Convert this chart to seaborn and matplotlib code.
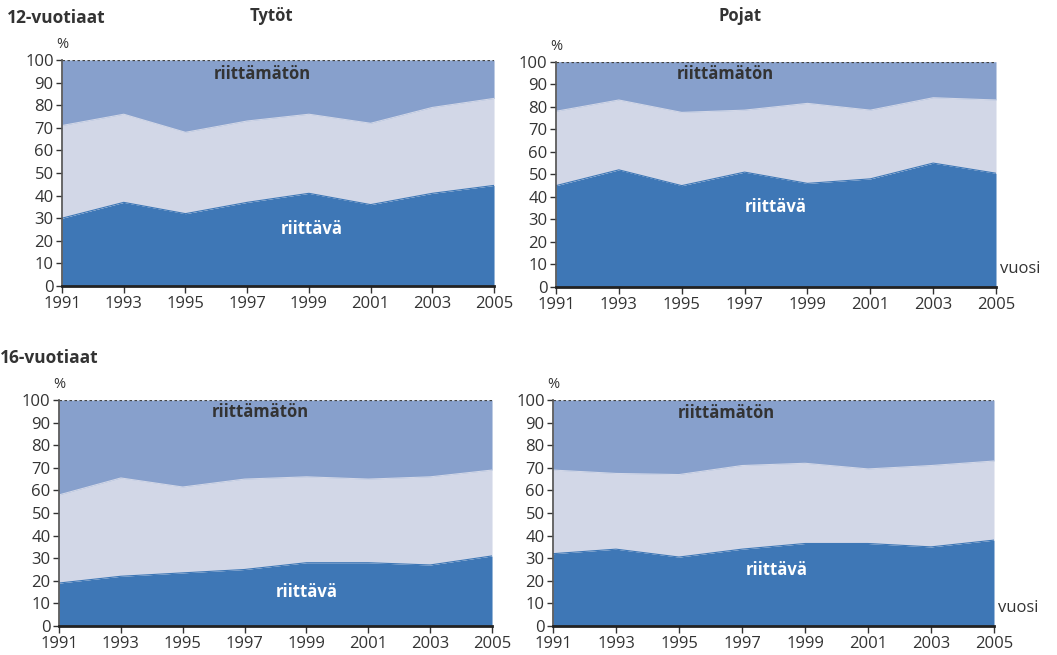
import matplotlib
matplotlib.use("Agg")
import matplotlib.pyplot as plt
import seaborn as sns
import pandas as pd

# years on x-axis
years = [1991, 1993, 1995, 1997, 1999, 2001, 2003, 2005]

# share (%) per band, bottom to top: riittävä, middle band, riittämätön
g12_riittava = [30, 37, 32, 37, 41, 36, 41, 44.5]
g12_keski = [41, 39, 36, 36, 35, 36, 38, 38.5]
b12_riittava = [45, 52, 45, 51, 46, 48, 55, 50.5]
b12_keski = [33, 31, 32.5, 27.5, 35.5, 30.5, 29, 32.5]
g16_riittava = [19, 22, 23.5, 25, 28, 28, 27, 31]
g16_keski = [39, 43.5, 38, 40, 38, 37, 39, 38]
b16_riittava = [32, 34, 30.5, 34, 36.5, 36.5, 35, 38]
b16_keski = [37, 33.5, 36.5, 37, 35.5, 33, 36, 35]

panels = [
    ("12", "Tytöt", g12_riittava, g12_keski),
    ("12", "Pojat", b12_riittava, b12_keski),
    ("16", "Tytöt", g16_riittava, g16_keski),
    ("16", "Pojat", b16_riittava, b16_keski),
]

# axes boxes in figure fractions [left, bottom, width, height]
boxes = [
    [0.0587, 0.5634, 0.4087, 0.345],
    [0.5260, 0.5618, 0.4163, 0.344],
    [0.0558, 0.0443, 0.4097, 0.345],
    [0.5232, 0.0443, 0.4172, 0.345],
]
# label positions (year, %) for the two band labels
lab_low = [(1999.1, 25), (1998.0, 35.5), (1999.0, 15), (1998.1, 24.8)]
lab_top = [(1997.5, 94), (1996.4, 94.5), (1997.5, 94.5), (1996.5, 94.2)]

sns.set_theme(style="white")
plt.rcParams["font.family"] = ["Open Sans", "DejaVu Sans"]

c_low = "#3e77b6"
c_mid = "#d2d7e7"
c_top = "#87a0cc"
txt = "#333333"

fig = plt.figure(figsize=(10.57, 6.55), dpi=100)

for i, (age, sex, low, mid) in enumerate(panels):
    ax = fig.add_axes(boxes[i])
    df = pd.DataFrame({"vuosi": years, "riittava": low, "keski": mid})
    df["raja1"] = df["riittava"]
    df["raja2"] = df["riittava"] + df["keski"]
    ax.fill_between(df["vuosi"], 0, df["raja1"], color=c_low, lw=0)
    ax.fill_between(df["vuosi"], df["raja1"], df["raja2"], color=c_mid, lw=0)
    ax.fill_between(df["vuosi"], df["raja2"], 100, color=c_top, lw=0)
    sns.lineplot(data=df, x="vuosi", y="raja1", ax=ax, color=c_low, lw=0.8)
    sns.lineplot(data=df, x="vuosi", y="raja2", ax=ax, color=c_mid, lw=0.8)

    ax.set_xlim(1991, 2005)
    ax.set_ylim(0, 100)
    ax.set_xticks(years)
    ax.set_yticks(range(0, 101, 10))
    ax.set_xlabel("")
    ax.set_ylabel("")
    ax.tick_params(axis="both", labelsize=12, colors=txt, length=4, width=1,
                   direction="out", pad=2)
    ax.tick_params(axis="x", bottom=True, length=5)
    ax.tick_params(axis="y", left=True)
    ax.axhline(100, color="#444444", lw=0.9, ls=(0, (2, 2)))
    for s in ["right", "top"]:
        ax.spines[s].set_visible(False)
    ax.spines["left"].set_color("#555555")
    ax.spines["bottom"].set_color("#222222")
    ax.spines["bottom"].set_linewidth(2)

    ax.text(*lab_top[i], "riittämätön", ha="center", va="center",
            fontsize=12, fontweight="bold", color=txt)
    ax.text(*lab_low[i], "riittävä", ha="center", va="center",
            fontsize=12, fontweight="bold", color="white")
    ax.text(-0.0, 1.035, "%", transform=ax.transAxes, ha="center", va="bottom",
            fontsize=10.5, color=txt)
    if sex == "Pojat":
        ax.text(1.01, 0.08, "vuosi", transform=ax.transAxes, ha="left",
                va="center", fontsize=12, color=txt)

fig.text(0.257, 0.975, "Tytöt", ha="center", va="center", fontsize=12,
         fontweight="bold", color=txt)
fig.text(0.700, 0.975, "Pojat", ha="center", va="center", fontsize=12,
         fontweight="bold", color=txt)
fig.text(0.007, 0.972, "12-vuotiaat", ha="left", va="center", fontsize=12.5,
         fontweight="bold", color=txt)
fig.text(0.0, 0.453, "16-vuotiaat", ha="left", va="center", fontsize=12.5,
         fontweight="bold", color=txt)

fig.savefig("out.png", dpi=100)
